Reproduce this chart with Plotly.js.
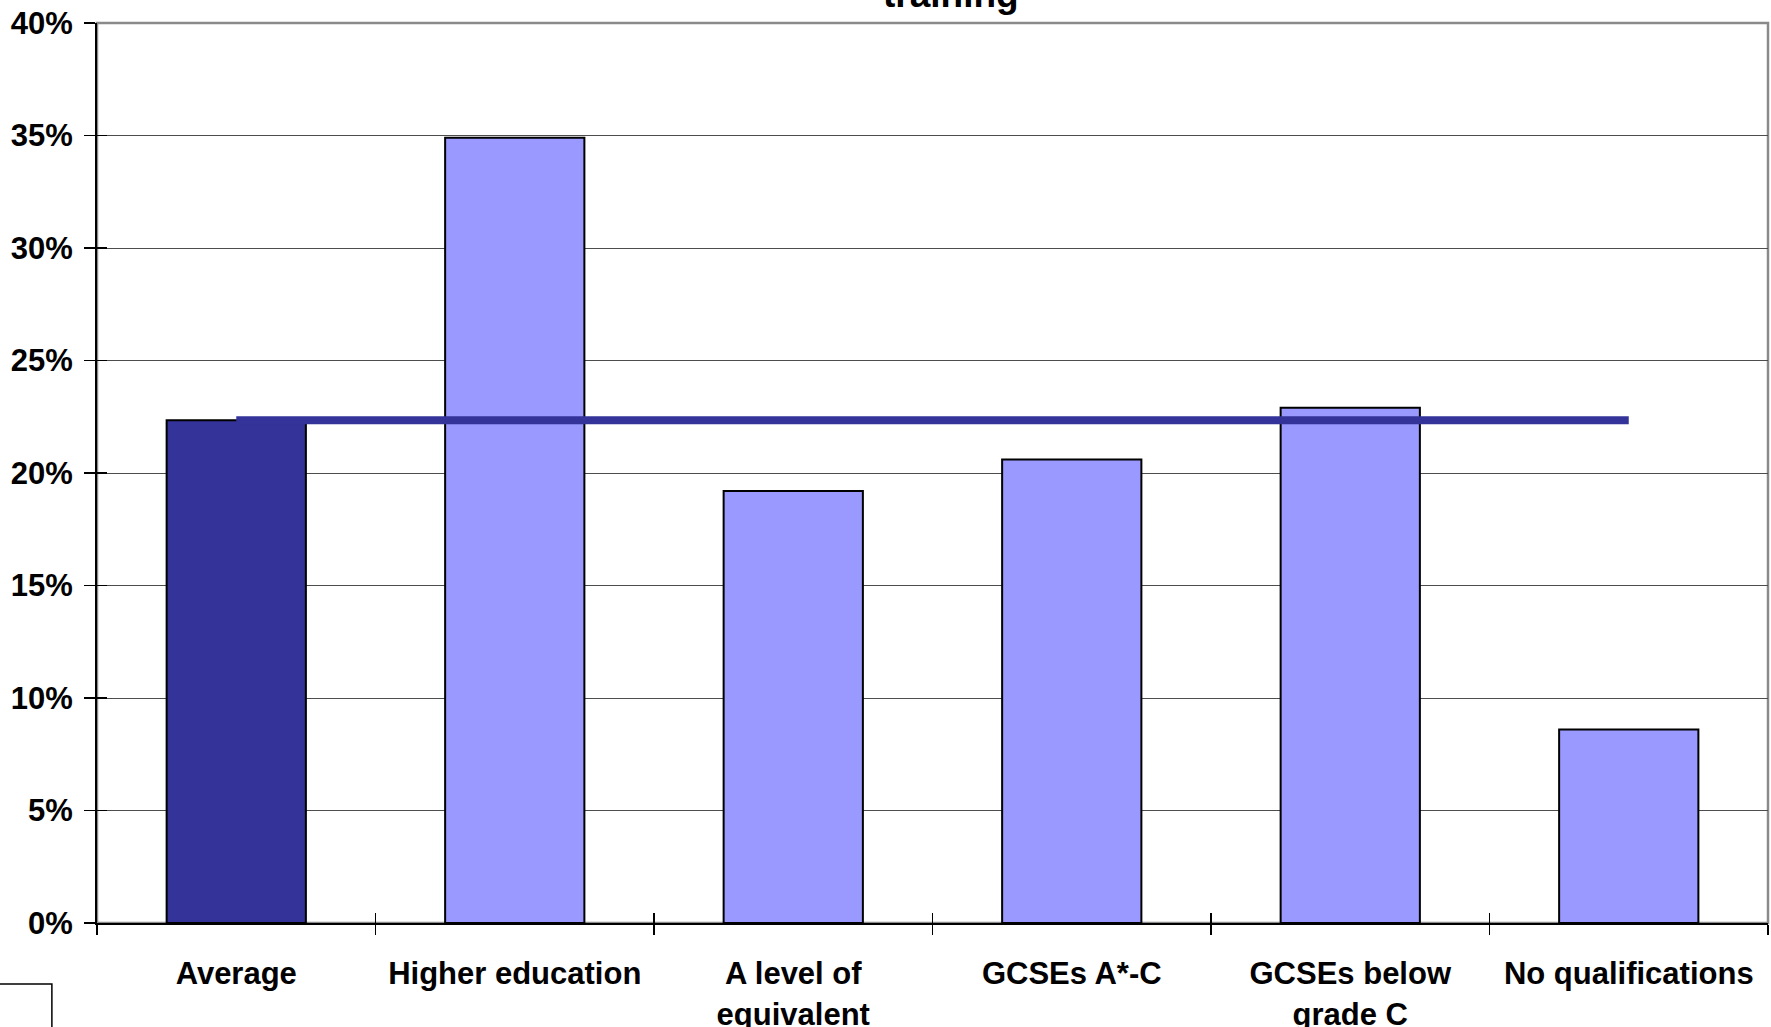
<!DOCTYPE html>
<html>
<head>
<meta charset="utf-8">
<script src="https://cdn.plot.ly/plotly-3.0.1.min.js"></script>
<style>html,body{margin:0;padding:0;background:#fff;}#chart{width:1771px;height:1027px;}</style>
</head>
<body>
<div id="chart"></div>
<script>
var categories = ["Average", "Higher education", "A level of<br>equivalent", "GCSEs A*-C", "GCSEs below<br>grade C", "No qualifications"];
var shareValues = [0.2235, 0.349, 0.192, 0.206, 0.229, 0.086];
var averageLine = [0.2235, 0.2235, 0.2235, 0.2235, 0.2235, 0.2235];
var barColors = ["#333399", "#9999FF", "#9999FF", "#9999FF", "#9999FF", "#9999FF"];
var yTickValues = [0, 0.05, 0.10, 0.15, 0.20, 0.25, 0.30, 0.35, 0.40];
var yTickLabels = ["0%", "5%", "10%", "15%", "20%", "25%", "30%", "35%", "40%"];
var titleText = "training";

var font = {family: "Liberation Sans, Arial, sans-serif", size: 31, color: "#000"};

var traces = [
  {
    type: "bar",
    x: categories,
    y: shareValues,
    marker: {color: barColors, line: {color: "#000", width: 2}},
    hoverinfo: "x+y",
    showlegend: false
  },
  {
    type: "scatter",
    mode: "lines",
    x: categories,
    y: averageLine,
    xaxis: "x2",
    yaxis: "y2",
    line: {color: "#333399", width: 8},
    showlegend: false
  }
];

var layout = {
  width: 1771,
  height: 1027,
  margin: {l: 97, r: 3, t: 23, b: 104, pad: 0},
  paper_bgcolor: "#fff",
  plot_bgcolor: "#fff",
  font: font,
  bargap: 0.5,
  showlegend: false,
  xaxis: {
    type: "category",
    categoryorder: "array",
    categoryarray: categories,
    range: [-0.5, 5.5],
    tickson: "boundaries",
    ticks: "outside",
    ticklen: 10,
    tickwidth: 1.5,
    tickcolor: "#000",
    showline: true,
    linecolor: "#000",
    linewidth: 2,
    showgrid: false,
    zeroline: false,
    tickfont: {family: font.family, size: 31, color: "#000", weight: "bold"},
    ticklabelstandoff: 22,
    fixedrange: true
  },
  yaxis: {
    range: [0, 0.40],
    tickvals: yTickValues,
    ticktext: yTickLabels,
    ticks: "outside",
    ticklen: 11,
    tickwidth: 1.5,
    tickcolor: "#000",
    showline: true,
    linecolor: "#000",
    linewidth: 2,
    showgrid: true,
    gridcolor: "#4d4d4d",
    gridwidth: 1,
    zeroline: false,
    tickfont: {family: font.family, size: 31, color: "#000", weight: "bold"},
    ticklabelstandoff: 5,
    fixedrange: true
  },
  xaxis2: {
    type: "category",
    categoryorder: "array",
    categoryarray: categories,
    range: [-0.5, 5.5],
    overlaying: "x",
    anchor: "y2",
    side: "bottom",
    tickson: "boundaries",
    ticks: "inside",
    ticklen: 10,
    tickwidth: 1.5,
    tickcolor: "#000",
    showticklabels: false,
    showgrid: false,
    showline: false,
    zeroline: false,
    fixedrange: true
  },
  yaxis2: {
    range: [0, 0.40],
    tickvals: yTickValues,
    overlaying: "y",
    anchor: "x2",
    side: "left",
    ticks: "inside",
    ticklen: 10,
    tickwidth: 1.5,
    tickcolor: "#000",
    showticklabels: false,
    showgrid: false,
    showline: false,
    zeroline: false,
    fixedrange: true
  },
  shapes: [
    {type: "rect", xref: "paper", yref: "paper", x0: 0, x1: 1, y0: 0, y1: 1,
     line: {color: "#8a8a8a", width: 2.5}, fillcolor: "rgba(0,0,0,0)", layer: "below"},
    {type: "rect", xref: "paper", yref: "paper", x0: -0.07, x1: -0.027, y0: -0.2, y1: -0.0677,
     line: {color: "#000", width: 1.5}, fillcolor: "#fff"}
  ],
  annotations: [
    {text: "<b>" + titleText + "</b>", xref: "paper", yref: "paper", x: 0.511, y: 1.0065,
     xanchor: "center", yanchor: "bottom", showarrow: false,
     font: {family: font.family, size: 37, color: "#000"}}
  ]
};

Plotly.newPlot("chart", traces, layout, {displayModeBar: false, staticPlot: true});
</script>
</body>
</html>
